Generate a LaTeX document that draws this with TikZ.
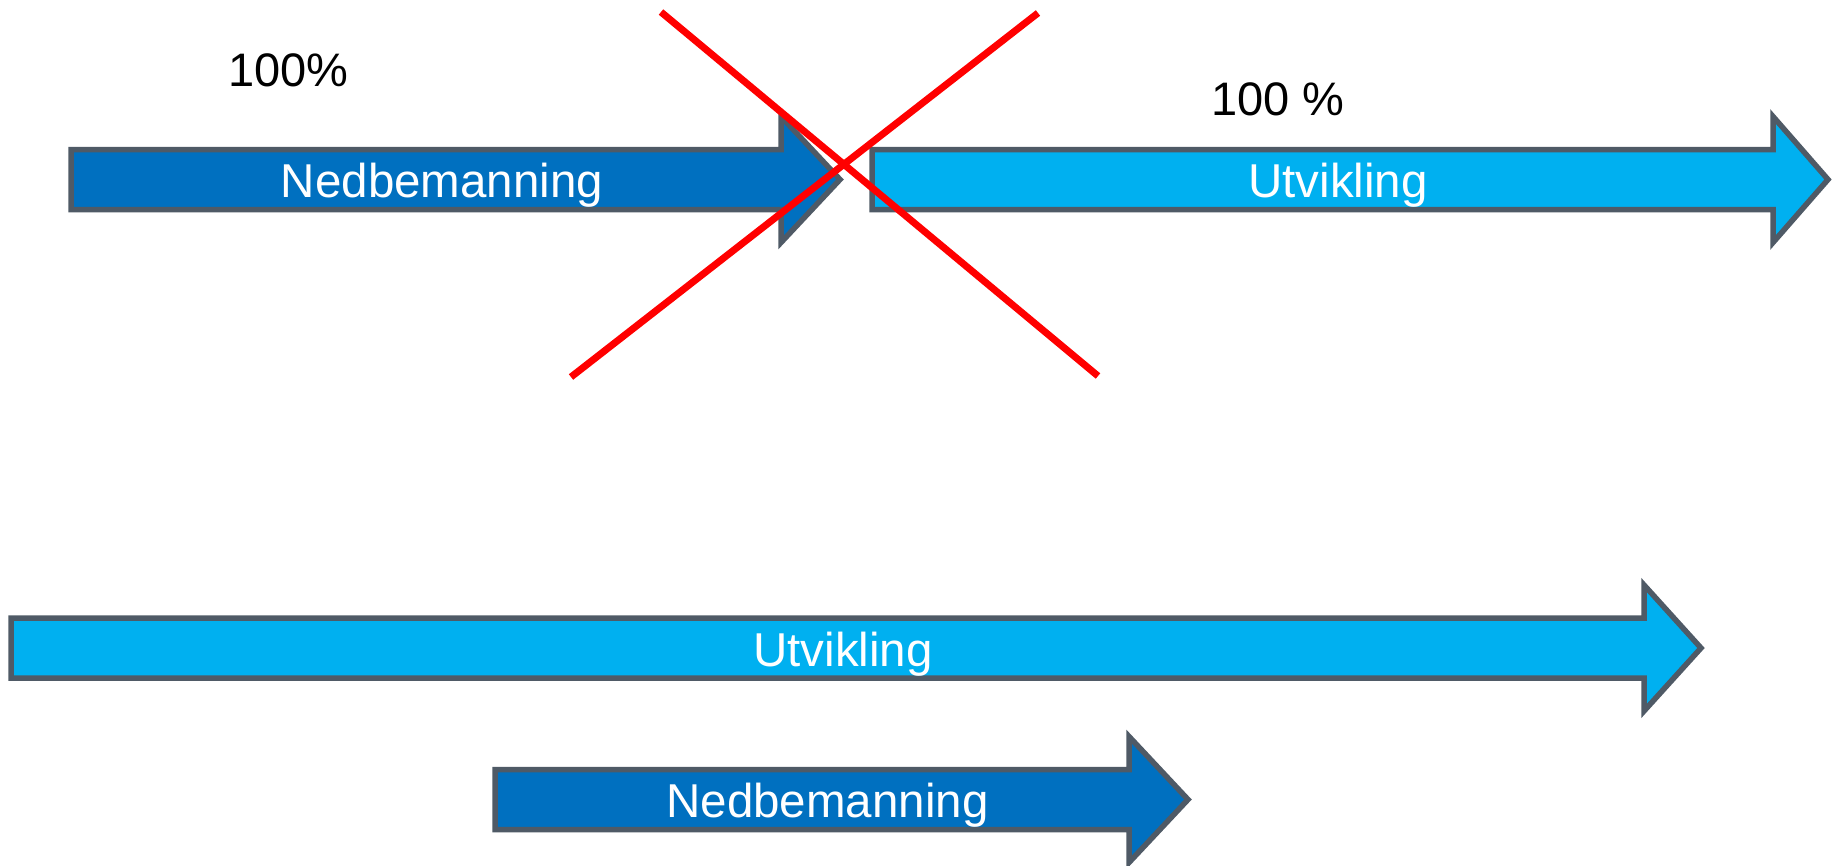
\documentclass[tikz,border=0pt]{standalone}
\usepackage{fontspec}
\setmainfont{Liberation Sans}
\definecolor{edgegray}{HTML}{4F5A66}
\definecolor{deepblue}{HTML}{0070C0}
\definecolor{skyblue}{HTML}{00B0F0}
\definecolor{crossred}{HTML}{FF0000}
\tikzset{
  barshape/.style={draw=edgegray, line width=5.5pt, line join=miter},
  barlabel/.style={anchor=base, inner sep=0pt, text=white, font=\fontsize{47.5}{57}\selectfont},
  pctlabel/.style={anchor=base, inner sep=0pt, text=black, font=\fontsize{47}{56}\selectfont},
  crossline/.style={draw=crossred, line width=7pt}
}
% block arrow: #1 fill, #2 left x, #3 head base x, #4 tip x, #5 middle y
\newcommand\flowbar[5]{%
  \path[barshape, fill=#1] (#2,#5-30) -- (#3,#5-30) -- (#3,#5-63) -- (#4,#5)
    -- (#3,#5+63) -- (#3,#5+30) -- (#2,#5+30) -- cycle;}
\begin{document}
\begin{tikzpicture}[x=1pt, y=-1pt]
  \useasboundingbox (0,0) rectangle (1833,865);

  % upper row
  \flowbar{deepblue}{71}{781}{840}{179.5}
  \flowbar{skyblue}{872}{1773}{1828}{179.5}
  \node[barlabel] (ned1) at (442,197.5) {Nedbemanning};
  \node[barlabel] (utv1) at (1338,197.5) {Utvikling};
  \node[pctlabel] (pct1) at (288.5,86) {100\%};
  \node[pctlabel] (pct2) at (1278,115) {100 \%};

  % red cross over the upper row
  \coordinate (xa1) at (661,12);
  \coordinate (xa2) at (1098,376);
  \coordinate (xb1) at (1038,13);
  \coordinate (xb2) at (571,377);
  \draw[crossline] (xa1) -- (xa2);
  \draw[crossline] (xb1) -- (xb2);

  % lower row
  \flowbar{skyblue}{11}{1644}{1701}{648}
  \flowbar{deepblue}{495}{1129}{1188}{799.5}
  \node[barlabel] (utv2) at (843,666) {Utvikling};
  \node[barlabel] (ned2) at (827.5,817.3) {Nedbemanning};
\end{tikzpicture}
\end{document}
